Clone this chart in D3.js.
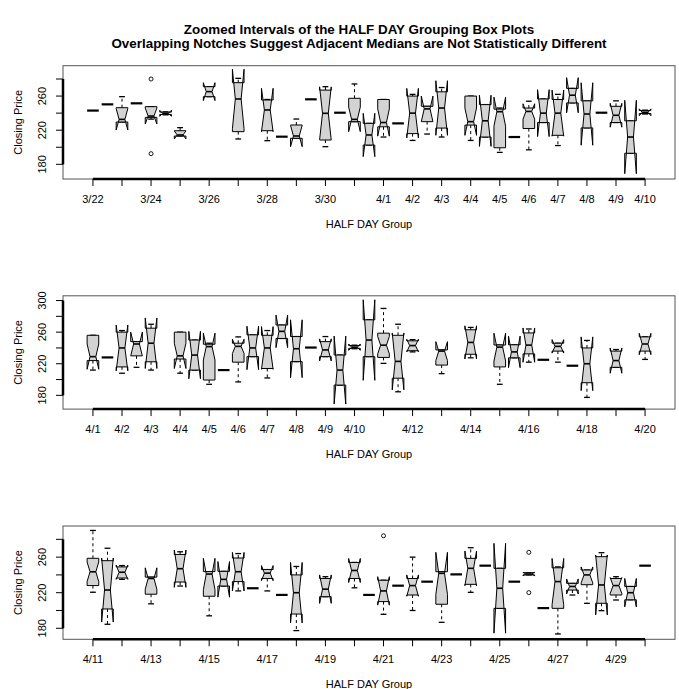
<!DOCTYPE html>
<html>
<head>
<meta charset="utf-8">
<script src="https://cdn.jsdelivr.net/npm/d3@7"></script>
<style>
  body { margin: 0; background: #fff; }
  svg  { display: block; font-family: "Liberation Sans", Arial, Helvetica, sans-serif; }
</style>
</head>
<body>
<div id="chart"></div>
<script>
/* ── DATA: one entry per half-day group, 3/22 AM .. 4/30 AM (null = no trades) ── */
const days = ['3/22','3/23','3/24','3/25','3/26','3/27','3/28','3/29','3/30','3/31',
              '4/1','4/2','4/3','4/4','4/5','4/6','4/7','4/8','4/9','4/10',
              '4/11','4/12','4/13','4/14','4/15','4/16','4/17','4/18','4/19','4/20',
              '4/21','4/22','4/23','4/24','4/25','4/26','4/27','4/28','4/29','4/30'];

const lowWhisker = [243,250.3,229.6,251.5,233,238,213.2,null,259.3,null,
  209.7,null,207.7,212.4,210.5,256.2,200.7,240.5,230,202.6,
  212,228,208,215.5,212,null,208,212,194,212,
  197,229,202,252,222.7,240.5,229,193,239,229,
  220.5,184.5,235,null,207.5,null,227.5,null,194,227.5,
  222,225,222,217.5,177.4,null,215.5,null,225.5,217.5,
  195.7,227.9,200,232.4,186.7,240.6,220.4,250.4,202.4,232.4,
  240,202.7,173.6,217.4,208,199.8,211.8,212,250.4];
const lowerHinge = [243,250.3,229.6,251.5,235,238.5,213.2,null,259.3,null,
  218.3,null,219.4,212.4,210.5,256.2,208.5,240.5,230,202.6,
  224,228,216,230,222.5,null,226,212,199.4,212,
  222,229,214,252,222.7,240.5,229,193,239.5,229,
  228,201.7,236.5,null,218.3,null,232,null,216,227.5,
  232.5,225,236,217.5,196,null,215.5,null,236,217.5,
  210,227.9,217.4,232.4,207,240.6,229.4,250.4,202.4,232.4,
  240,202.7,202.4,223,229,208.1,217.4,212,250.4];
const medians = [243,250.3,232.7,251.5,236.6,239.8,214.4,null,265.2,null,
  256.6,null,243.7,212.4,213.2,256.2,239.8,240.5,232.7,214.4,
  229,228,240,245,246,null,230,231,241.7,212,
  242,240,240,261,239,240.5,237.5,212,241,250,
  243.5,223,243,null,236,null,247,null,241,235,
  243.6,225,242,217.5,220,null,224,null,245,217.5,
  222,227.9,228,232.4,241.8,240.6,247.4,250.4,225,232.4,
  241,202.7,232.5,227,240,228.7,228,220,250.4];
const upperHinge = [243,250.3,246.4,251.5,247.6,241.2,219.4,null,271,null,
  275.7,null,255.4,212.4,226.1,256.2,267,240.5,257.4,228,
  256,228,260,248,265,null,260,250,244.7,212,
  246,256.6,256,269,254.4,240.5,248,231,243,275.6,
  258.7,256,249,null,237.5,null,263,null,243.7,244,
  259,225,246,217.5,240,null,236,null,254,217.5,
  234,227.9,236,232.4,243.6,240.6,258.6,250.4,247.4,232.4,
  242.5,202.7,248,230.5,245.5,260.5,236,227,250.4];
const highWhisker = [243,250.3,259.3,251.5,247.6,241.5,223,null,271,null,
  280.8,null,256,212.4,233.1,256.2,271,240.5,274.2,228,
  256,228,262,248,270,null,260,250,246,212,
  254,256.6,262,269,254.4,240.5,254.4,231,243.5,275.6,
  290,270,250.5,null,237.5,null,266,null,243.7,244,
  264,225,246,217.5,249.5,null,238,null,254,217.5,
  234,227.9,260,232.4,243.6,240.6,270.6,250.4,247.4,232.4,
  242.5,202.7,249,230.5,245.5,265,238,227,250.4];
// half-height of the median notch (1.58 * IQR / sqrt(n))
const notchHalf = [0,0,12.5,0,9.3,3.5,4.7,null,10.5,null,
  34.8,null,25.4,0,12.5,0,31,0,14.4,25.4,
  16,0,29,15,32,null,16,30,17,0,
  9,27.5,27,20.6,36.6,0,14,43,4,51,
  11,36,8,null,12,null,21,null,17.6,20,
  21.7,0,8.5,0,34,null,16,null,13.5,0,
  16,0,12,0,23.6,0,19.5,0,50.5,0,
  2,0,26,8.5,9,33.7,9,16,0];
const outliers = { 4: [280, 192.5], 60: [284], 70: [265.4, 220.1] };

/* ── PANELS ── */
const panelStart  = [0, 20, 40];
const yDomains    = [[162.8, 295.6], [162.6, 306], [167.6, 295]];
const yTicks      = [[180,200,220,240,260,280], [180,200,220,240,260,280,300], [180,200,220,240,260,280]];
const yTickLabels = [[180,220,260], [180,220,260,300], [180,220,260]];
const xTickLabels = [
  ['3/22','','3/24','','3/26','','3/28','','3/30','','4/1','4/2','4/3','4/4','4/5','4/6','4/7','4/8','4/9','4/10'],
  ['4/1','4/2','4/3','4/4','4/5','4/6','4/7','4/8','4/9','4/10','','4/12','','4/14','','4/16','','4/18','','4/20'],
  ['4/11','','4/13','','4/15','','4/17','','4/19','','4/21','','4/23','','4/25','','4/27','','4/29','']
];

const W = 679, H = 689;
const FL = 63, FR = 675, PH = 113.3;
const panelTop = [65.7, 295.8, 526];
const FILL = '#d3d3d3';

const svg = d3.select('#chart').append('svg').attr('width', W).attr('height', H);

/* ── TITLE ── */
svg.append('text').attr('x', 359).attr('y', 34).attr('text-anchor', 'middle')
  .attr('font-size', 13.4).attr('font-weight', 'bold')
  .text('Zoomed Intervals of the HALF DAY Grouping Box Plots');
svg.append('text').attr('x', 359).attr('y', 48).attr('text-anchor', 'middle')
  .attr('font-size', 13.4).attr('font-weight', 'bold')
  .text('Overlapping Notches Suggest Adjacent Medians are Not Statistically Different');

/* ── ONE PANEL ── */
function drawPanel(p) {
  const top = panelTop[p], bot = top + PH;
  const start = panelStart[p];
  const n = 39;
  const pad = 0.5 + 0.04 * n;
  const x = d3.scaleLinear().domain([-pad, n - 1 + pad]).range([FL, FR]);
  const y = d3.scaleLinear().domain(yDomains[p]).range([bot, top]);
  const g = svg.append('g');

  const wid = x(0.8) - x(0);
  const hw  = wid / 2;

  for (let i = 0; i < n; i++) {
    const k = start + i;
    if (lowerHinge[k] == null) continue;
    const xc = x(i);
    const lo = lowWhisker[k], q1 = lowerHinge[k], md = medians[k], q3 = upperHinge[k], hi = highWhisker[k];
    const nh = notchHalf[k];

    if (q3 - q1 < 0.01) {
      // single-value group: collapsed box
      g.append('line').attr('x1', xc - hw).attr('x2', xc + hw)
        .attr('y1', y(md)).attr('y2', y(md))
        .attr('stroke', '#000').attr('stroke-width', 2.2);
      continue;
    }

    // whiskers
    g.append('line').attr('x1', xc).attr('x2', xc).attr('y1', y(q3)).attr('y2', y(hi))
      .attr('stroke', '#000').attr('stroke-dasharray', '3,3');
    g.append('line').attr('x1', xc).attr('x2', xc).attr('y1', y(q1)).attr('y2', y(lo))
      .attr('stroke', '#000').attr('stroke-dasharray', '3,3');
    [lo, hi].forEach(v => {
      g.append('line').attr('x1', xc - hw / 2).attr('x2', xc + hw / 2)
        .attr('y1', y(v)).attr('y2', y(v)).attr('stroke', '#000').attr('stroke-width', 1.3);
    });

    // notched box, same vertex order as R's bxp
    const cl = md - nh, ch = md + nh;
    const pts = [
      [xc - hw, q1], [xc + hw, q1], [xc + hw, cl], [xc + hw / 2, md], [xc + hw, ch],
      [xc + hw, q3], [xc - hw, q3], [xc - hw, ch], [xc - hw / 2, md], [xc - hw, cl]
    ];
    g.append('polygon')
      .attr('points', pts.map(d => `${d[0]},${y(d[1])}`).join(' '))
      .attr('fill', FILL).attr('stroke', '#000').attr('stroke-width', 1)
      .attr('stroke-linejoin', 'miter');

    // median
    g.append('line').attr('x1', xc - hw / 2).attr('x2', xc + hw / 2)
      .attr('y1', y(md)).attr('y2', y(md)).attr('stroke', '#000').attr('stroke-width', 1.6);

    // outliers
    (outliers[k] || []).forEach(v => {
      g.append('circle').attr('cx', xc).attr('cy', y(v)).attr('r', 2)
        .attr('fill', 'none').attr('stroke', '#000').attr('stroke-width', 0.9);
    });
  }

  // frame
  g.append('rect').attr('x', FL).attr('y', top).attr('width', FR - FL).attr('height', PH)
    .attr('fill', 'none').attr('stroke', '#555').attr('stroke-width', 1);

  // x axis
  const tickIdx = d3.range(0, n, 2);
  g.append('line').attr('x1', x(0)).attr('x2', x(n - 1)).attr('y1', bot).attr('y2', bot)
    .attr('stroke', '#000').attr('stroke-width', 2.5);
  tickIdx.forEach((t, j) => {
    g.append('line').attr('x1', x(t)).attr('x2', x(t)).attr('y1', bot).attr('y2', bot + 7)
      .attr('stroke', '#000');
    g.append('text').attr('x', x(t)).attr('y', bot + 24).attr('text-anchor', 'middle')
      .attr('font-size', 11).text(xTickLabels[p][j]);
  });
  g.append('text').attr('x', (FL + FR) / 2).attr('y', bot + 49).attr('text-anchor', 'middle')
    .attr('font-size', 11).text('HALF DAY Group');

  // y axis
  const yt = yTicks[p];
  g.append('line').attr('x1', FL).attr('x2', FL).attr('y1', y(yt[0])).attr('y2', y(yt[yt.length - 1]))
    .attr('stroke', '#000').attr('stroke-width', 2.5);
  yt.forEach(v => {
    g.append('line').attr('x1', FL - 7).attr('x2', FL).attr('y1', y(v)).attr('y2', y(v))
      .attr('stroke', '#000');
  });
  yTickLabels[p].forEach(v => {
    g.append('text').attr('transform', `translate(46,${y(v)}) rotate(-90)`)
      .attr('text-anchor', 'middle').attr('font-size', 11).text(v);
  });
  g.append('text').attr('transform', `translate(22,${(top + bot) / 2}) rotate(-90)`)
    .attr('text-anchor', 'middle').attr('font-size', 11).text('Closing Price');
}

[0, 1, 2].forEach(drawPanel);
</script>
</body>
</html>
